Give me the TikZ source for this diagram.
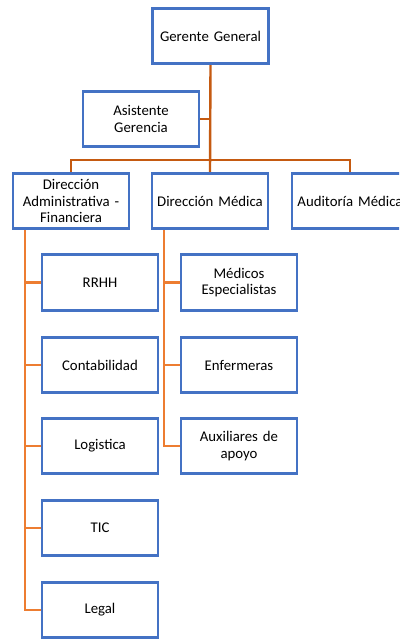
\documentclass[tikz,border=0pt]{standalone}
\usepackage{fontspec}
\setmainfont{Carlito}
\begin{document}
\begin{tikzpicture}[x=1pt,y=-1pt,
  box/.style={draw=boxblue, line width=2.6pt, fill=white, minimum width=113.5pt, minimum height=55.5pt,
    align=center, inner sep=2pt, font=\fontsize{14.8}{16.8}\selectfont, text width=112pt},
  topline/.style={draw=linedark, line width=2.4pt},
  subline/.style={draw=linelight, line width=2.4pt}]
\definecolor{boxblue}{HTML}{4472C4}
\definecolor{linedark}{HTML}{C55A11}
\definecolor{linelight}{HTML}{ED7D31}
\useasboundingbox (0,0) rectangle (399,639);
\clip (0,0) rectangle (399,639);
\fill[white] (0,0) rectangle (399,639);
% coordinates
\coordinate (bary) at (0,160);
\coordinate (sp1) at (25,0);
\coordinate (sp2) at (164,0);
% nodes
\node[box] (ger) at (210.5,36) {Gerente General};
\node[box] (asis) at (141,119) {Asistente\\Gerencia};
\node[box] (adm) at (71,201) {Dirección\\Administrativa -\\Financiera};
\node[box] (dm) at (210,201) {Dirección Médica};
\node[box] (aud) at (350,201) {Auditoría Médica};
\node[box] (rrhh) at (100,282.5) {RRHH};
\node[box] (cont) at (100,365) {Contabilidad};
\node[box] (log) at (100,446) {Logistica};
\node[box] (tic) at (100,528) {TIC};
\node[box] (legal) at (100,610) {Legal};
\node[box] (med) at (239,282.5) {Médicos\\Especialistas};
\node[box] (enf) at (239,365) {Enfermeras};
\node[box] (aux) at (239,446) {Auxiliares de\\apoyo};
% connectors
\draw[topline] (ger.south) -- (dm.north);
\draw[topline] (asis.east) -- (asis.east -| ger.south);
\draw[topline] (adm.north) -- (adm.north |- bary) -- (aud.north |- bary) -- (aud.north);
\draw[subline] (adm.south -| sp1) -- (legal.west -| sp1) -- (legal.west);
\draw[subline] (rrhh.west -| sp1) -- (rrhh.west);
\draw[subline] (cont.west -| sp1) -- (cont.west);
\draw[subline] (log.west -| sp1) -- (log.west);
\draw[subline] (tic.west -| sp1) -- (tic.west);
\draw[subline] (dm.south -| sp2) -- (aux.west -| sp2) -- (aux.west);
\draw[subline] (med.west -| sp2) -- (med.west);
\draw[subline] (enf.west -| sp2) -- (enf.west);
\end{tikzpicture}
\end{document}
